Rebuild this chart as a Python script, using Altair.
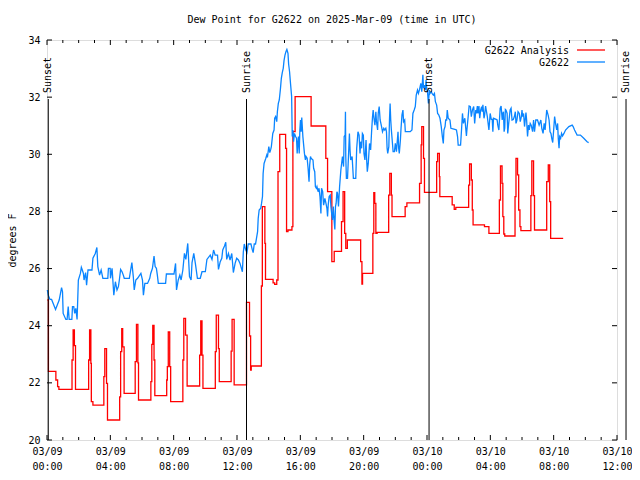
import altair as alt
import pandas as pd

# ---------------- data (hours since 2025-03-09 00:00 UTC, dew point degF) ----------------
red_hours = [0.02,0.09,0.56,0.67,0.75,1.58,1.65,1.73,1.80,2.63,
             2.69,2.77,2.80,2.90,3.59,3.65,3.76,3.82,4.59,4.65,
             4.72,4.78,4.87,5.57,5.65,5.74,5.78,6.56,6.62,6.68,
             6.76,6.81,7.56,7.60,7.66,7.75,7.81,8.58,8.64,8.75,
             8.85,9.64,9.71,9.79,9.85,10.63,10.69,10.83,10.88,11.63,
             11.69,11.82,12.60,12.79,12.86,12.90,13.54,13.60,13.76,13.80,
             14.28,14.38,14.51,14.59,14.70,15.07,15.13,15.22,15.47,15.53,
             15.67,16.68,17.61,17.72,17.99,18.14,18.60,18.70,18.80,18.87,
             18.97,19.81,19.89,19.93,20.58,20.64,20.70,20.77,20.85,21.58,
             21.65,21.75,21.79,22.62,22.73,23.53,23.63,23.67,23.78,23.84,
             24.61,24.67,24.78,24.81,25.59,25.72,25.82,26.63,26.69,26.80,
             26.86,26.91,27.63,27.91,28.57,28.64,28.74,28.79,28.85,28.91,
             29.56,29.62,29.72,29.79,29.87,29.93,30.56,30.62,30.73,30.79,
             31.56,31.66,31.75,31.81,32.60]
red_dewpt = [24.9,22.4,22.1,21.87,21.77,22.8,23.85,23.3,21.77,22.8,
             23.85,22.68,21.34,21.22,22.22,23.2,21.98,20.7,21.51,23.09,
             23.9,23.26,21.63,22.74,24.05,22.7,21.4,22.04,23.35,24.01,
             22.8,21.55,22.1,22.57,23.78,22.57,21.34,22.8,24.26,23.67,
             21.89,22.97,24.17,22.97,21.81,23.09,24.37,23.2,22.04,23.11,
             24.22,21.93,24.82,23.64,22.45,22.59,25.39,28.17,26.88,25.62,
             25.5,25.45,25.6,29.39,30.7,30.21,27.29,27.35,27.47,30.79,
             32.02,30.99,29.86,28.69,26.24,26.6,27.64,28.69,27.23,26.71,
             27.0,26.24,25.46,25.83,27.23,28.66,28.28,27.23,27.27,28.57,
             29.33,28.57,27.82,28.17,28.3,28.98,30.33,30.97,29.86,28.67,
             29.74,30.03,29.22,28.52,28.23,28.07,28.14,28.92,29.66,29.1,
             28.05,27.53,27.47,27.23,28.4,29.59,28.98,27.82,27.21,27.14,
             28.52,29.86,29.28,28.05,27.47,27.33,28.55,29.77,28.55,27.35,
             29.04,29.63,28.34,27.06,27.06]

blue_hours_a = [0.02,0.08,0.19,0.29,0.54,0.77,0.92,0.98,1.02,1.19,1.27,1.34,1.40,1.57,1.61,1.69,1.75,1.82,1.90,1.94,
                1.98,2.11,2.17,2.23,2.30,2.34,2.44,2.50,2.59,2.84,2.90,3.05,3.15,3.21,3.32,3.42,3.53,3.84,3.88,3.99,
                4.01,4.11,4.22,4.32,4.42,4.51,4.57,4.65,4.74,4.82,4.88,5.20,5.36,5.45,5.51,5.61,5.72,5.93,6.03,6.09,
                6.18,6.35,6.49,6.55,6.66,6.76,6.83,6.91,6.97,7.03,7.49,7.54,8.02,8.12,8.18,8.29,8.39,8.47,8.58,8.68,
                8.77,8.89,9.00,9.10,9.16,9.27,9.37,9.50,9.68,9.79,10.00,10.10,10.31,10.42,10.52,10.62,10.77,10.83,10.94,11.04,
                11.10,11.21,11.29,11.35,11.46,11.56,11.67,11.77,11.88,11.98]
blue_dewpt_a = [25.25,25.07,24.92,24.92,24.57,24.90,25.33,25.19,24.43,24.22,24.22,24.67,24.22,24.22,24.67,24.67,24.43,24.61,24.22,24.90,
                25.60,25.83,26.04,25.95,25.83,25.60,25.86,25.42,25.95,25.95,26.36,26.53,26.74,26.07,25.77,25.95,25.66,25.66,26.01,26.01,
                25.66,26.01,25.07,25.54,25.25,25.37,25.60,25.97,25.89,25.77,25.66,25.66,26.21,25.72,25.25,25.60,25.66,25.83,25.60,25.07,
                25.48,25.48,25.66,25.83,26.01,26.44,26.07,26.01,25.77,25.48,25.48,25.81,25.81,26.18,25.25,25.60,25.77,25.60,25.95,26.53,
                26.32,26.88,25.72,25.60,26.21,26.53,26.18,25.66,25.66,25.89,25.89,26.32,26.47,26.32,26.65,26.47,26.47,25.97,26.24,26.36,
                26.65,26.79,26.92,26.32,26.53,26.30,26.53,25.86,26.18,26.36]

blue_hours_b = [12.09,12.19,12.34,12.40,12.46,12.54,12.63,12.71,12.88,12.96,13.02,13.09,13.17,13.30,13.34,13.40,13.50,13.55,13.61,13.65,
                13.71,13.82,13.88,13.92,14.01,14.07,14.13,14.17,14.26,14.34,14.38,14.44,14.51,14.55,14.61,14.67,14.74,14.80,14.86,14.92,
                14.97,15.03,15.09,15.15,15.22,15.26,15.32,15.38,15.45,15.49,15.53,15.57,15.63,15.70,15.76,15.80,15.84,15.88,15.93,15.97,
                16.01,16.05,16.09,16.16,16.20,16.26,16.32,16.36,16.43,16.49,16.55,16.59,16.64,16.68,16.80,16.84,16.91,16.95,17.01,17.05,
                17.12,17.18,17.24,17.30,17.34,17.41,17.47,17.55,17.62,17.68,17.72,17.76,17.82,17.89,17.93,17.99,18.03,18.08,18.14,18.18,
                18.22,18.26,18.31]
blue_dewpt_b = [26.30,26.18,25.89,26.59,26.86,26.67,26.56,26.86,26.86,26.67,26.56,26.86,26.86,27.29,27.76,28.05,28.11,28.28,28.52,29.33,
                29.68,29.86,29.97,29.89,30.27,30.06,30.17,30.27,30.73,30.85,31.26,31.32,31.14,31.49,31.78,31.90,32.27,32.66,32.86,33.01,
                33.28,33.47,33.59,33.67,33.53,33.16,32.89,32.48,32.02,30.62,30.85,30.44,30.73,30.62,30.56,30.03,30.38,30.62,30.03,30.85,
                31.20,30.79,31.29,30.62,30.38,30.03,29.80,29.92,29.86,29.51,29.04,29.62,29.92,29.86,29.80,29.51,29.39,28.87,28.81,28.87,
                28.69,28.81,28.52,27.93,28.81,28.69,28.22,28.46,28.28,28.11,27.82,28.22,28.52,28.57,28.17,27.87,27.70,28.17,27.64,27.37,
                28.17,28.28,28.69]

blue_hours_c = [18.35,18.41,18.48,18.56,18.66,18.73,18.77,18.83,18.85,18.87,18.91,18.98,19.04,19.10,19.14,19.18,19.27,19.35,19.50,19.56,
                19.64,19.71,19.77,19.81,19.87,19.92,19.98,20.02,20.08,20.15,20.19,20.23,20.29,20.37,20.44,20.50,20.56,20.60,20.65,20.71,
                20.77,20.81,20.88,20.92,20.98,21.04,21.13,21.19,21.27,21.33,21.40,21.44,21.48,21.52,21.59,21.63,21.67,21.71,21.75,21.81,
                21.86,21.94,22.00,22.07,22.11,22.17,22.21,22.25,22.32,22.36,22.42,22.48,22.52,22.59,22.63,22.94,23.05,23.11,23.19,23.26,
                23.32,23.40,23.46,23.53,23.61,23.67,23.74,23.78,23.84,23.90,23.94,23.99,24.03,24.09,24.15,24.19,24.26,24.32,24.40,24.47,
                24.53,24.61,24.67,24.74,24.82,24.90,24.97,25.03,25.07,25.14,25.18]
blue_dewpt_c = [28.63,28.17,28.87,29.45,29.92,29.57,30.62,30.67,31.49,29.92,29.16,29.16,29.92,30.73,30.15,29.80,29.92,29.16,29.16,30.21,
                30.79,30.67,30.03,30.44,30.21,30.73,30.67,30.03,29.80,30.50,29.80,29.39,29.68,30.38,30.15,30.79,31.32,31.55,31.26,31.02,
                31.49,31.14,30.85,31.43,31.67,31.20,30.97,30.79,30.91,30.85,30.91,30.79,30.21,30.03,30.27,31.20,31.78,31.20,30.85,30.44,
                30.09,30.09,30.38,30.09,30.38,30.79,30.21,30.03,30.50,30.91,31.38,31.55,31.14,31.20,30.79,30.79,30.85,31.43,31.55,31.67,
                32.07,32.25,32.13,32.27,32.48,32.19,32.78,32.31,32.42,32.25,32.60,32.27,32.19,31.78,32.25,32.13,32.19,32.13,32.07,32.13,
                31.84,31.72,31.43,31.38,31.26,30.97,30.62,30.38,30.85,30.97,31.20]

blue_hours_d = [25.24,25.28,25.34,25.45,25.51,25.76,25.86,25.93,25.97,26.12,26.18,26.24,26.30,26.39,26.49,26.53,26.60,26.66,26.74,26.80,
                26.87,26.95,27.01,27.08,27.12,27.18,27.22,27.28,27.33,27.39,27.45,27.49,27.53,27.60,27.64,27.70,27.74,27.81,27.91,27.95,
                27.99,28.06,28.12,28.16,28.20,28.37,28.43,28.47,28.54,28.62,28.68,28.75,28.79,28.83,28.87,28.91,28.95,28.99,29.06,29.10,
                29.16,29.25,29.31,29.37,29.45,29.52,29.58,29.62,29.68,29.75,29.83,29.89,29.96,30.00,30.04,30.10,30.16,30.25,30.29,30.35,
                30.41,30.46,30.52,30.58,30.67,30.73,30.79,30.87,30.98,31.08,31.19,31.25,31.33,31.40,31.46,31.56,31.65,31.71,31.77,31.83,
                31.88,31.94,32.00,32.06,32.12,32.19,32.25,32.29,32.34,32.38,32.44,32.50,32.56,32.65,32.75,32.96,33.17,33.23,33.32,33.48,
                33.69,33.90,34.11,34.21]
blue_dewpt_d = [31.20,31.55,31.26,31.20,30.91,30.87,30.85,30.62,30.32,30.32,30.85,31.43,31.08,31.26,30.64,30.91,31.32,31.69,31.67,31.32,
                31.55,31.67,31.08,31.55,31.43,31.69,31.43,31.69,31.26,31.55,31.67,31.49,31.73,31.26,31.38,31.69,31.55,31.32,30.85,31.14,
                31.43,31.22,31.22,30.79,31.26,31.22,31.20,31.02,30.85,31.61,31.69,31.20,31.43,31.49,30.79,30.91,31.57,31.55,31.43,30.73,
                31.08,31.55,31.61,31.20,31.22,31.32,31.49,31.08,31.20,31.49,31.43,31.14,31.32,31.55,31.32,31.43,30.97,31.46,31.22,30.62,
                31.02,30.85,31.08,31.02,30.79,31.20,30.79,31.20,31.20,31.02,31.20,30.91,30.73,31.08,30.85,31.55,31.37,31.20,30.79,30.73,
                30.56,30.41,30.85,31.32,31.08,30.85,31.08,30.56,30.21,30.62,30.56,30.73,30.64,30.73,30.85,30.97,31.02,30.97,30.85,30.67,
                30.67,30.56,30.44,30.41]

sun_hours = [0.08, 12.60, 24.13, 36.57]
sun_labels = ["Sunset", "Sunrise", "Sunset", "Sunrise"]

x_major = [0, 4, 8, 12, 16, 20, 24, 28, 32, 36]
x_minor = [h for h in range(0, 37) if h % 4 != 0]
y_ticks = [20, 22, 24, 26, 28, 30, 32, 34]

series_names = ["G2622 Analysis", "G2622"]
RED = "#ff0000"
BLUE = "#0a85ff"

# ---------------- chart ----------------
W, H = 570, 400
FONT = "DejaVu Sans Mono"
FS = 10

red = pd.DataFrame({"h": red_hours, "v": red_dewpt})
blue = pd.DataFrame({"h": blue_hours_a + blue_hours_b + blue_hours_c + blue_hours_d,
                     "v": blue_dewpt_a + blue_dewpt_b + blue_dewpt_c + blue_dewpt_d})
sun = pd.DataFrame({"h": sun_hours, "label": sun_labels})
xmaj = pd.DataFrame({"h": x_major})
xmin = pd.DataFrame({"h": x_minor})
ytk = pd.DataFrame({"v": y_ticks})

xscale = alt.Scale(domain=[0, 36], nice=False, zero=False)
yscale = alt.Scale(domain=[20, 34], nice=False, zero=False)

xaxis = alt.Axis(
    values=x_major,
    labelExpr="[datum.value < 24 ? '03/09' : '03/10', (datum.value % 24 < 10 ? '0' : '') + (datum.value % 24) + ':00']",
    ticks=False, domain=False, grid=False, labelPadding=6, labelLineHeight=15,
    labelFont=FONT, labelFontSize=FS, labelColor="black", labelAngle=0,
    labelFlush=False, labelOverlap=False, title=None,
)
yaxis = alt.Axis(
    values=y_ticks, ticks=False, domain=False, grid=False, labelPadding=7,
    labelFont=FONT, labelFontSize=FS, labelColor="black",
    title="degrees F", titleFont=FONT, titleFontSize=FS, titleFontWeight="normal",
    titleColor="black", titlePadding=10,
)


def X(f="h"):
    return alt.X(f"{f}:Q", scale=xscale, axis=xaxis)


def Y(f="v"):
    return alt.Y(f"{f}:Q", scale=yscale, axis=yaxis)


red_line = alt.Chart(red).mark_line(color=RED, strokeWidth=1.3, interpolate="step-after").encode(x=X(), y=Y())
blue_line = alt.Chart(blue).mark_line(color=BLUE, strokeWidth=1.3).encode(x=X(), y=Y())

sun_rules = alt.Chart(sun).mark_rule(color="black", strokeWidth=1).encode(
    x=X(), y=alt.value(H), y2=alt.value(59))
sun_text = alt.Chart(sun).mark_text(angle=270, align="left", baseline="middle",
                                     font=FONT, fontSize=FS, color="black").encode(
    x=X(), y=alt.value(53), text="label:N")

tick_layers = [
    alt.Chart(xmaj).mark_rule(color="black").encode(x=X(), y=alt.value(H), y2=alt.value(H - 5)),
    alt.Chart(xmaj).mark_rule(color="black").encode(x=X(), y=alt.value(0), y2=alt.value(5)),
    alt.Chart(xmin).mark_rule(color="black").encode(x=X(), y=alt.value(H), y2=alt.value(H - 3)),
    alt.Chart(xmin).mark_rule(color="black").encode(x=X(), y=alt.value(0), y2=alt.value(3)),
    alt.Chart(ytk).mark_rule(color="black").encode(y=Y(), x=alt.value(0), x2=alt.value(5)),
    alt.Chart(ytk).mark_rule(color="black").encode(y=Y(), x=alt.value(W), x2=alt.value(W - 5)),
]

leg1 = pd.DataFrame({"name": [series_names[0]]})
leg2 = pd.DataFrame({"name": [series_names[1]]})
legend_layers = [
    alt.Chart(leg1).mark_text(align="right", baseline="middle", font=FONT, fontSize=FS, color="black").encode(
        text="name:N", x=alt.value(W - 48), y=alt.value(11)),
    alt.Chart(leg2).mark_text(align="right", baseline="middle", font=FONT, fontSize=FS, color="black").encode(
        text="name:N", x=alt.value(W - 48), y=alt.value(23)),
    alt.Chart(leg1).mark_rule(color=RED, strokeWidth=1.3).encode(x=alt.value(W - 40), x2=alt.value(W - 12), y=alt.value(10)),
    alt.Chart(leg2).mark_rule(color=BLUE, strokeWidth=1.3).encode(x=alt.value(W - 40), x2=alt.value(W - 12), y=alt.value(22)),
]

chart = alt.layer(
    red_line, blue_line, sun_rules, sun_text, *tick_layers, *legend_layers
).properties(
    width=W, height=H,
    title=alt.TitleParams("Dew Point for G2622 on 2025-Mar-09 (time in UTC)", font=FONT, fontSize=FS,
                          fontWeight="normal", color="black", anchor="middle", offset=10),
    autosize=alt.AutoSizeParams(type="none"),
    padding={"left": 39, "top": 32, "right": 15, "bottom": 32},
).configure_view(stroke="black", strokeWidth=1).configure(background="white")

chart.save("out.html", embed_options={"renderer": "svg", "actions": False})
